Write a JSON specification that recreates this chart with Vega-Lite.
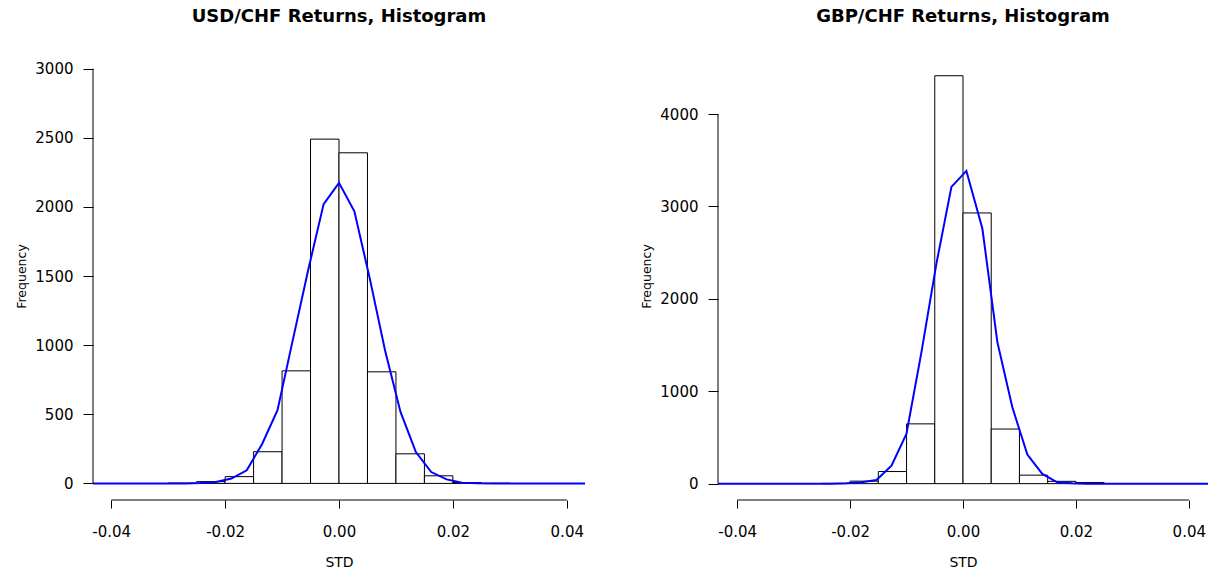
{
  "$schema": "https://vega.github.io/schema/vega-lite/v6.json",
  "autosize": {"type": "pad"},
  "padding": {"left": 15, "top": 8, "right": 0, "bottom": 0},
  "background": "white",
  "datasets": {
    "usd_bars": [
      {"lo": -0.030, "hi": -0.025, "n": 2},
      {"lo": -0.025, "hi": -0.020, "n": 13},
      {"lo": -0.020, "hi": -0.015, "n": 49},
      {"lo": -0.015, "hi": -0.010, "n": 229},
      {"lo": -0.010, "hi": -0.005, "n": 814},
      {"lo": -0.005, "hi": 0.000, "n": 2490},
      {"lo": 0.000, "hi": 0.005, "n": 2391},
      {"lo": 0.005, "hi": 0.010, "n": 807},
      {"lo": 0.010, "hi": 0.015, "n": 214},
      {"lo": 0.015, "hi": 0.020, "n": 55},
      {"lo": 0.020, "hi": 0.025, "n": 6},
      {"lo": 0.025, "hi": 0.030, "n": 1}
    ],
    "usd_curve": [
      {"ret": -0.0432, "freq": 0},
      {"ret": -0.0270, "freq": 0},
      {"ret": -0.0243, "freq": 3},
      {"ret": -0.0216, "freq": 10},
      {"ret": -0.0189, "freq": 35},
      {"ret": -0.0162, "freq": 95},
      {"ret": -0.0135, "freq": 285},
      {"ret": -0.0108, "freq": 530},
      {"ret": -0.0081, "freq": 1040},
      {"ret": -0.0054, "freq": 1545},
      {"ret": -0.0027, "freq": 2020},
      {"ret": 0.0000, "freq": 2174},
      {"ret": 0.0027, "freq": 1968},
      {"ret": 0.0054, "freq": 1483},
      {"ret": 0.0081, "freq": 960},
      {"ret": 0.0108, "freq": 517},
      {"ret": 0.0135, "freq": 227},
      {"ret": 0.0162, "freq": 82},
      {"ret": 0.0189, "freq": 29},
      {"ret": 0.0216, "freq": 5},
      {"ret": 0.0243, "freq": 1},
      {"ret": 0.0270, "freq": 0},
      {"ret": 0.0432, "freq": 0}
    ],
    "gbp_bars": [
      {"lo": -0.025, "hi": -0.020, "n": 3},
      {"lo": -0.020, "hi": -0.015, "n": 27},
      {"lo": -0.015, "hi": -0.010, "n": 131},
      {"lo": -0.010, "hi": -0.005, "n": 647},
      {"lo": -0.005, "hi": 0.000, "n": 4415},
      {"lo": 0.000, "hi": 0.005, "n": 2930},
      {"lo": 0.005, "hi": 0.010, "n": 591},
      {"lo": 0.010, "hi": 0.015, "n": 92},
      {"lo": 0.015, "hi": 0.020, "n": 25},
      {"lo": 0.020, "hi": 0.025, "n": 12}
    ],
    "gbp_curve": [
      {"ret": -0.0434, "freq": 0},
      {"ret": -0.0233, "freq": 0},
      {"ret": -0.02064, "freq": 3},
      {"ret": -0.01798, "freq": 14},
      {"ret": -0.01533, "freq": 40},
      {"ret": -0.01267, "freq": 195},
      {"ret": -0.01002, "freq": 539},
      {"ret": -0.00736, "freq": 1423},
      {"ret": -0.00471, "freq": 2381},
      {"ret": -0.00205, "freq": 3212},
      {"ret": 0.00060, "freq": 3385},
      {"ret": 0.00343, "freq": 2761},
      {"ret": 0.00609, "freq": 1532},
      {"ret": 0.00874, "freq": 827},
      {"ret": 0.01140, "freq": 314},
      {"ret": 0.01405, "freq": 105},
      {"ret": 0.01671, "freq": 14},
      {"ret": 0.01936, "freq": 3},
      {"ret": 0.02200, "freq": 0},
      {"ret": 0.0434, "freq": 0}
    ]
  },
  "spacing": 133,
  "bounds": "flush",
  "hconcat": [
    {
      "title": "USD/CHF Returns, Histogram",
      "width": 492,
      "height": 448,
      "layer": [
        {
          "data": {"name": "usd_bars"},
          "mark": {"type": "rect", "fill": "white", "stroke": "black", "strokeWidth": 1},
          "encoding": {
            "x": {"field": "lo", "type": "quantitative", "title": "STD",
                  "scale": {"domain": [-0.0432, 0.0432], "nice": false, "zero": false},
                  "axis": {"values": [-0.04, -0.02, 0, 0.02, 0.04], "format": ".2f"}},
            "x2": {"field": "hi"},
            "y": {"field": "n", "type": "quantitative", "title": "Frequency",
                  "scale": {"domain": [-120, 3120], "nice": false, "zero": false},
                  "axis": {"values": [0, 500, 1000, 1500, 2000, 2500, 3000], "format": "d"}},
            "y2": {"datum": 0}
          }
        },
        {
          "data": {"name": "usd_curve"},
          "mark": {"type": "line", "color": "#0000ff", "strokeWidth": 2},
          "encoding": {
            "x": {"field": "ret", "type": "quantitative", "title": "STD",
                  "scale": {"domain": [-0.0432, 0.0432], "nice": false, "zero": false}},
            "y": {"field": "freq", "type": "quantitative", "title": "Frequency",
                  "scale": {"domain": [-120, 3120], "nice": false, "zero": false}}
          }
        },
        {
          "data": {"values": [{}]},
          "mark": {"type": "rule", "color": "black", "strokeWidth": 1},
          "encoding": {
            "x": {"datum": -0.04, "type": "quantitative", "title": "STD"},
            "x2": {"datum": 0.04},
            "y": {"datum": -120, "type": "quantitative", "title": "Frequency"}
          }
        },
        {
          "data": {"values": [{}]},
          "mark": {"type": "rule", "color": "black", "strokeWidth": 1},
          "encoding": {
            "x": {"datum": -0.0432, "type": "quantitative", "title": "STD"},
            "y": {"datum": 0, "type": "quantitative", "title": "Frequency"},
            "y2": {"datum": 3000}
          }
        }
      ]
    },
    {
      "title": "GBP/CHF Returns, Histogram",
      "width": 490,
      "height": 448,
      "layer": [
        {
          "data": {"name": "gbp_bars"},
          "mark": {"type": "rect", "fill": "white", "stroke": "black", "strokeWidth": 1},
          "encoding": {
            "x": {"field": "lo", "type": "quantitative", "title": "STD",
                  "scale": {"domain": [-0.0434, 0.0434], "nice": false, "zero": false},
                  "axis": {"values": [-0.04, -0.02, 0, 0.02, 0.04], "format": ".2f"}},
            "x2": {"field": "hi"},
            "y": {"field": "n", "type": "quantitative", "title": "Frequency",
                  "scale": {"domain": [-177, 4672], "nice": false, "zero": false},
                  "axis": {"values": [0, 1000, 2000, 3000, 4000], "format": "d"}},
            "y2": {"datum": 0}
          }
        },
        {
          "data": {"name": "gbp_curve"},
          "mark": {"type": "line", "color": "#0000ff", "strokeWidth": 2},
          "encoding": {
            "x": {"field": "ret", "type": "quantitative", "title": "STD",
                  "scale": {"domain": [-0.0434, 0.0434], "nice": false, "zero": false}},
            "y": {"field": "freq", "type": "quantitative", "title": "Frequency",
                  "scale": {"domain": [-177, 4672], "nice": false, "zero": false}}
          }
        },
        {
          "data": {"values": [{}]},
          "mark": {"type": "rule", "color": "black", "strokeWidth": 1},
          "encoding": {
            "x": {"datum": -0.04, "type": "quantitative", "title": "STD"},
            "x2": {"datum": 0.04},
            "y": {"datum": -177, "type": "quantitative", "title": "Frequency"}
          }
        },
        {
          "data": {"values": [{}]},
          "mark": {"type": "rule", "color": "black", "strokeWidth": 1},
          "encoding": {
            "x": {"datum": -0.0434, "type": "quantitative", "title": "STD"},
            "y": {"datum": 0, "type": "quantitative", "title": "Frequency"},
            "y2": {"datum": 4000}
          }
        }
      ]
    }
  ],
  "config": {
    "locale": {"number": {"decimal": ".", "thousands": ",", "grouping": [3], "currency": ["$", ""], "minus": "-"}},
    "view": {"stroke": null},
    "font": "DejaVu Sans",
    "title": {"font": "DejaVu Sans", "fontSize": 18, "fontWeight": "bold", "color": "#000000", "offset": 26, "anchor": "middle"},
    "axis": {
      "domain": false, "grid": false,
      "tickColor": "#000000", "tickWidth": 1,
      "labelColor": "#000000", "labelFont": "DejaVu Sans", "labelFontSize": 15,
      "titleColor": "#000000", "titleFont": "DejaVu Sans", "titleFontWeight": "normal",
      "labelOverlap": false, "labelFlush": false
    },
    "axisX": {"tickSize": 8, "labelPadding": 16, "titleFontSize": 14, "titlePadding": 16},
    "axisY": {"tickSize": 10, "labelPadding": 10, "titleFontSize": 12.5, "titlePadding": 6}
  }
}
